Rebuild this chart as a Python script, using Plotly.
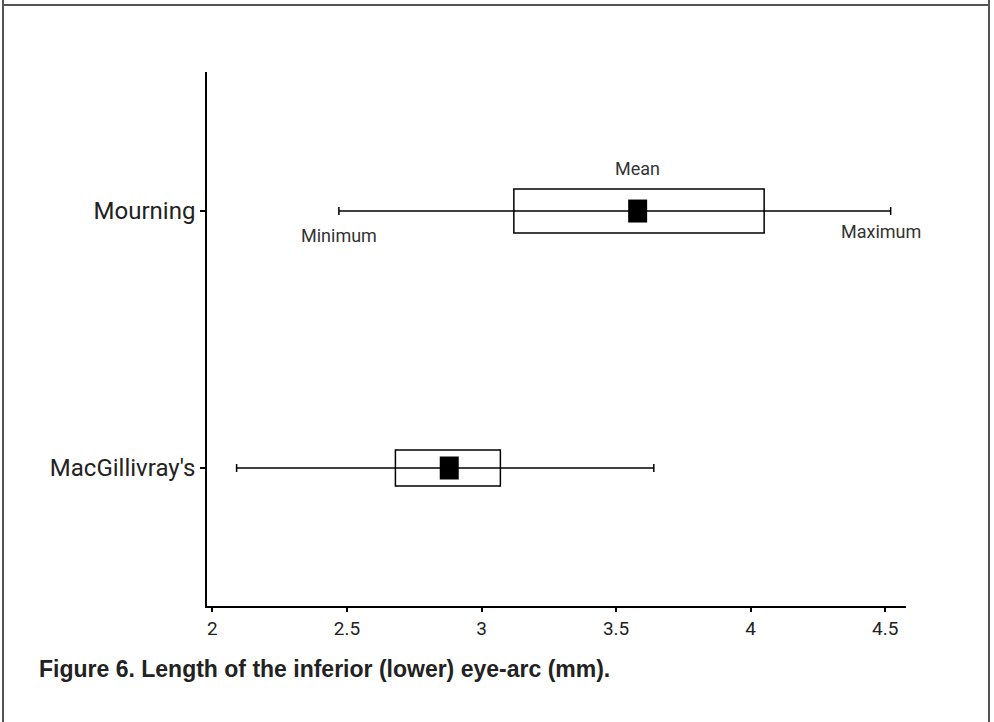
import plotly.graph_objects as go

# ---- data ----
species = ["MacGillivray's", "Mourning"]
minimum = [2.09, 2.47]
q1 = [2.68, 3.12]
mean = [2.88, 3.58]
q3 = [3.07, 4.05]
maximum = [3.64, 4.52]
x_ticks = [2, 2.5, 3, 3.5, 4, 4.5]
x_ticklabels = ["2", "2.5", "3", "3.5", "4", "4.5"]
caption = "Figure 6. Length of the inferior (lower) eye-arc (mm)."

# ---- layout geometry (pixels) ----
W, H = 994, 722
L, R, T, B = 207, 994 - 906, 72, 722 - 606
box_h = [36, 44]

def px(xp):
    return (xp - L) / (W - L - R)

def py(yp):
    return (H - B - yp) / (H - T - B)

fig = go.Figure()
shapes = []
for i, name in enumerate(species):
    fig.add_trace(go.Scatter(x=[minimum[i], maximum[i]], y=[i, i], mode="lines",
                             line=dict(color="black", width=1.5), showlegend=False,
                             hoverinfo="skip"))
    for xv in (minimum[i], maximum[i]):
        shapes.append(dict(type="line", xref="x", yref="y", x0=xv, x1=xv,
                           ysizemode="pixel", yanchor=i, y0=-4, y1=4,
                           line=dict(color="black", width=1.5)))
    shapes.append(dict(type="rect", xref="x", yref="y", x0=q1[i], x1=q3[i],
                       ysizemode="pixel", yanchor=i, y0=-box_h[i] / 2, y1=box_h[i] / 2,
                       line=dict(color="black", width=1.5), fillcolor="rgba(0,0,0,0)"))
    shapes.append(dict(type="rect", xref="x", yref="y", xsizemode="pixel", xanchor=mean[i],
                       x0=-9.5, x1=9.5, ysizemode="pixel", yanchor=i, y0=-11.5, y1=11.5,
                       line=dict(color="black", width=0), fillcolor="black"))

# outer frame
frame_col = "#555555"
shapes.append(dict(type="line", xref="paper", yref="paper", x0=px(3), x1=px(3), y0=py(0), y1=py(722),
                   line=dict(color=frame_col, width=2)))
shapes.append(dict(type="line", xref="paper", yref="paper", x0=px(989), x1=px(989), y0=py(0), y1=py(722),
                   line=dict(color=frame_col, width=2)))
shapes.append(dict(type="line", xref="paper", yref="paper", x0=px(3), x1=px(989), y0=py(5), y1=py(5),
                   line=dict(color=frame_col, width=2)))

label_font = dict(family="Roboto", size=18, color="#333333")
m = 1
annotations = [
    dict(x=mean[m], y=m, xref="x", yref="y", text="Mean", showarrow=False,
         yshift=43, font=label_font),
    dict(x=minimum[m], y=m, xref="x", yref="y", text="Minimum", showarrow=False,
         yshift=-24, font=label_font),
    dict(x=maximum[m], y=m, xref="x", yref="y", text="Maximum", showarrow=False,
         xshift=-10, yshift=-20, font=label_font),
    dict(x=px(37), y=py(669), xref="paper", yref="paper", text="<b>" + caption + "</b>",
         showarrow=False, xanchor="left", yanchor="middle",
         font=dict(family="Liberation Sans", size=23, color="#222222")),
]

fig.update_layout(
    width=W, height=H,
    margin=dict(l=L, r=R, t=T, b=B, pad=0),
    paper_bgcolor="white", plot_bgcolor="white",
    shapes=shapes, annotations=annotations,
    xaxis=dict(range=[1.98, 4.577], tickvals=x_ticks, ticktext=x_ticklabels,
               showgrid=False, zeroline=False, showline=True, linecolor="black", linewidth=1.5,
               ticks="outside", ticklen=4, tickwidth=1.5, tickcolor="black",
               tickfont=dict(family="Roboto", size=19, color="#222222")),
    yaxis=dict(range=[-0.537, 1.541], tickvals=[0, 1], ticktext=species,
               showgrid=False, zeroline=False, showline=True, linecolor="black", linewidth=1.5,
               ticks="outside", ticklen=5, tickwidth=1.5, tickcolor="black",
               tickfont=dict(family="Roboto", size=24, color="#222222")),
    showlegend=False,
)

fig.write_html("out.html", config={"displayModeBar": False},
               post_script="document.body.style.margin='0';document.body.style.overflow='hidden';")
